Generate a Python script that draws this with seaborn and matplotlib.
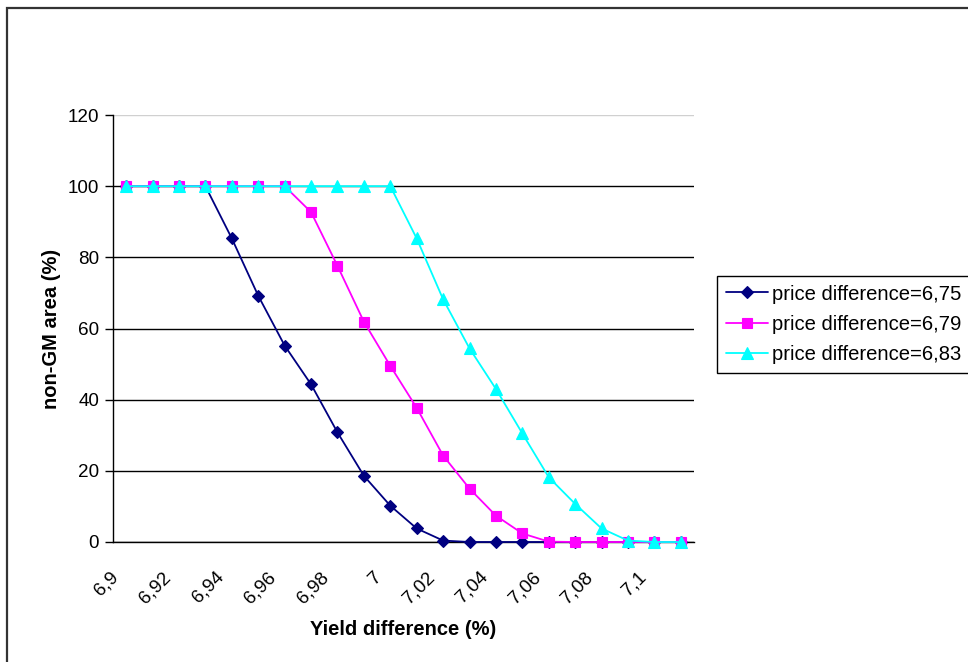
import numpy as np
import pandas as pd
import matplotlib
matplotlib.use("Agg")
import matplotlib.pyplot as plt
import matplotlib.transforms as mtransforms
from matplotlib.patches import Rectangle
import seaborn as sns

# yield difference categories (%)
yield_diff = [6.90, 6.91, 6.92, 6.93, 6.94, 6.95, 6.96, 6.97, 6.98, 6.99, 7.00,
              7.01, 7.02, 7.03, 7.04, 7.05, 7.06, 7.07, 7.08, 7.09, 7.10, 7.11]

# non-GM area (%) for each price difference
pd_675 = [100, 100, 100, 100, 85.3, 69.2, 55.2, 44.3, 30.8, 18.6, 10.2,
          3.8, 0.4, 0, 0, 0, 0, 0, 0, 0, 0, 0]
pd_679 = [100, 100, 100, 100, 100, 100, 100, 92.7, 77.6, 61.9, 49.5,
          37.7, 24.3, 15.0, 7.4, 2.4, 0.1, 0, 0, 0, 0, 0]
pd_683 = [100, 100, 100, 100, 100, 100, 100, 100, 100, 100, 100,
          85.3, 68.2, 54.4, 43.0, 30.5, 18.2, 10.7, 3.8, 0.4, 0, 0]

series_names = ["price difference=6,75", "price difference=6,79", "price difference=6,83"]
tick_values = yield_diff[::2]
tick_labels = ["6,9", "6,92", "6,94", "6,96", "6,98", "7", "7,02", "7,04", "7,06", "7,08", "7,1"]

df = pd.DataFrame({
    "yield": yield_diff * 3,
    "area": pd_675 + pd_679 + pd_683,
    "series": [series_names[0]] * len(yield_diff)
              + [series_names[1]] * len(yield_diff)
              + [series_names[2]] * len(yield_diff),
})

colors = dict(zip(series_names, ["#000080", "#FF00FF", "#00FFFF"]))
markers = dict(zip(series_names, ["D", "s", "^"]))
msizes = [6.5, 6.5, 8.5]

sns.set_theme(style="white")
plt.rcParams["font.family"] = ["Liberation Sans", "DejaVu Sans"]
plt.rcParams.update({"text.color": "black", "axes.labelcolor": "black",
                     "xtick.color": "black", "ytick.color": "black"})

fig = plt.figure(figsize=(9.68, 6.62), dpi=100)
ax = fig.add_axes([113 / 968, 1 - 542 / 662, 581 / 968, 427 / 662])

sns.lineplot(data=df, x="yield", y="area", hue="series", style="series",
             palette=colors, markers=markers, dashes=False, errorbar=None,
             linewidth=1.3, legend=False, ax=ax, zorder=3)

for line, ms in zip(ax.lines, msizes):
    line.set_markersize(ms)
    line.set_markeredgecolor(line.get_color())
    line.set_markerfacecolor(line.get_color())
    line.set_markeredgewidth(0.8)
    line.set_clip_on(False)

# category axis: boundaries between points
step = 0.01
ax.set_xlim(yield_diff[0] - step / 2, yield_diff[-1] + step / 2)
ax.set_ylim(0, 120)
ax.set_yticks(range(0, 121, 20))
ax.set_xticks(tick_values)
ax.set_xticklabels(tick_labels, rotation=45, ha="right", va="top",
                   rotation_mode="anchor", fontsize=13.6)
ax.set_xticks(np.array(yield_diff + [yield_diff[-1] + step]) - step / 2, minor=True)
ax.tick_params(axis="x", which="major", length=0, pad=19)
ax.tick_params(axis="x", which="minor", length=6, width=1, color="black", direction="out")
ax.tick_params(axis="y", length=6, width=1, color="black", direction="out",
               labelsize=13.6, pad=4, left=True)

offset = mtransforms.ScaledTranslation(-0.17, 0, fig.dpi_scale_trans)
for lab in ax.get_xticklabels():
    lab.set_transform(lab.get_transform() + offset)

ax.yaxis.grid(True, color="black", linewidth=1)
ax.set_axisbelow(True)
ax.yaxis.get_gridlines()[-1].set_color("#d0d0d0")
for side in ["top", "right"]:
    ax.spines[side].set_visible(False)
for side in ["left", "bottom"]:
    ax.spines[side].set_color("black")
    ax.spines[side].set_linewidth(1)

ax.set_xlabel("Yield difference (%)", fontsize=14.5, fontweight="bold")
ax.set_ylabel("non-GM area (%)", fontsize=14.5, fontweight="bold")
ax.xaxis.set_label_coords(0.5, -0.206)
ax.xaxis.label.set_va("center")
ax.yaxis.set_label_coords(-0.106, 0.5)
ax.yaxis.label.set_va("center")

leg = fig.legend(handles=ax.lines[:3], labels=series_names,
                 loc="upper left", bbox_to_anchor=(717 / 968, 1 - 276 / 662),
                 fontsize=14.6, frameon=True, fancybox=False, framealpha=1,
                 edgecolor="black", handlelength=2.1, handletextpad=0.2,
                 borderpad=0.42, labelspacing=0.56, borderaxespad=0)
leg.get_frame().set_linewidth(1)

# outer chart border (extends past the right and bottom edges)
fig.patches.append(Rectangle((7 / 968, -0.1), 1.2, 1.1 - 8 / 662,
                             transform=fig.transFigure, fill=False,
                             edgecolor="#333333", linewidth=1.6))

fig.savefig("out.png", dpi=100)
